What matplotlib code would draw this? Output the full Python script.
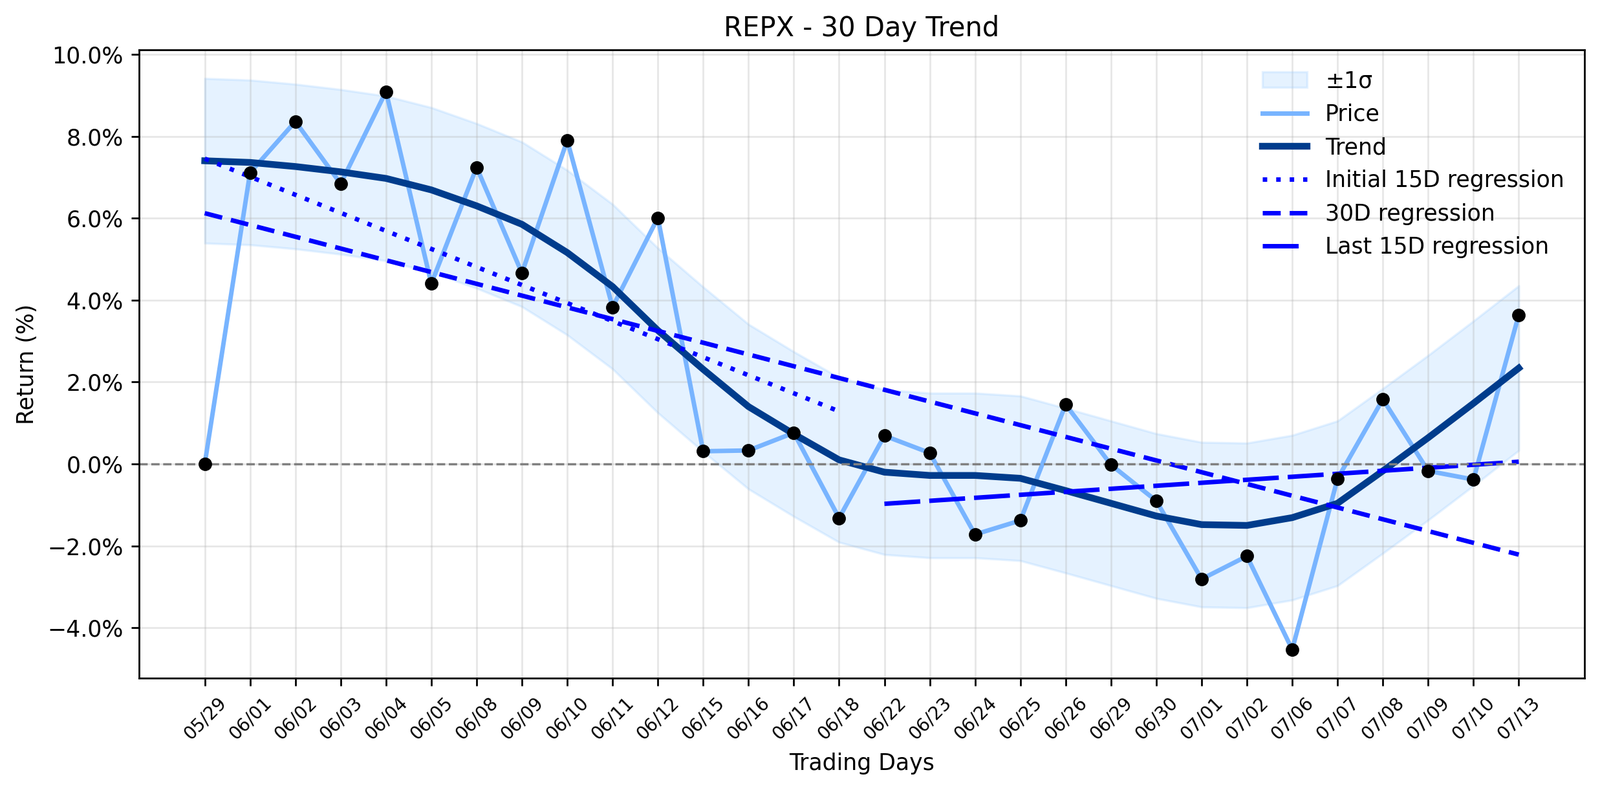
import numpy as np
import matplotlib
matplotlib.use("Agg")
import matplotlib.pyplot as plt
from matplotlib.ticker import PercentFormatter

ticker = "REPX"

dates = ["05/29", "06/01", "06/02", "06/03", "06/04", "06/05", "06/08", "06/09",
         "06/10", "06/11", "06/12", "06/15", "06/16", "06/17", "06/18", "06/22",
         "06/23", "06/24", "06/25", "06/26", "06/29", "06/30", "07/01", "07/02",
         "07/06", "07/07", "07/08", "07/09", "07/10", "07/13"]

# daily return vs first day (%)
price = [0.00, 7.11, 8.36, 6.84, 9.09, 4.40, 7.24, 4.66, 7.90, 3.83,
         6.01, 0.31, 0.33, 0.76, -1.32, 0.69, 0.27, -1.72, -1.38, 1.45,
         -0.02, -0.90, -2.81, -2.25, -4.53, -0.36, 1.58, -0.17, -0.38, 3.64]

# smoothed trend (%)
trend = [7.40, 7.36, 7.26, 7.13, 6.97, 6.69, 6.30, 5.85, 5.16, 4.33,
         3.26, 2.31, 1.40, 0.73, 0.10, -0.20, -0.28, -0.28, -0.35, -0.65,
         -0.96, -1.27, -1.48, -1.50, -1.31, -0.96, -0.17, 0.64, 1.48, 2.34]

sigma = 2.01

x = np.arange(len(dates))
price = np.array(price)
trend = np.array(trend)

fig, ax = plt.subplots(figsize=(2474 / 250, 1224 / 250), dpi=250)
fig.subplots_adjust(left=0.0869, right=0.9903, top=0.937, bottom=0.1438)

ax.fill_between(x, trend - sigma, trend + sigma, color="#99ccff", alpha=0.25, label="±1σ")
ax.plot(x, price, color="#78b4ff", linewidth=2, label="Price")
ax.plot(x, trend, color="#003c8c", linewidth=3, label="Trend")

# regressions on the price series
first = x[:15]
c1 = np.polyfit(first, price[:15], 1)
ax.plot(first, np.polyval(c1, first), color="blue", linewidth=2,
        linestyle=(0, (1, 2)), label="Initial 15D regression")

c2 = np.polyfit(x, price, 1)
ax.plot(x, np.polyval(c2, x), color="blue", linewidth=2,
        linestyle=(0, (4, 2)), label="30D regression")

last = x[15:]
c3 = np.polyfit(last, price[15:], 1)
ax.plot(last, np.polyval(c3, last), color="blue", linewidth=2,
        linestyle=(0, (8, 2)), label="Last 15D regression")

ax.scatter(x, price, color="black", s=25, zorder=5)
ax.axhline(0, color="gray", linestyle="--", linewidth=1)

ax.set_title(f"{ticker} - 30 Day Trend")
ax.set_xlabel("Trading Days")
ax.set_ylabel("Return (%)")
ax.set_xticks(x)
ax.set_xticklabels(dates, rotation=45, fontsize=8)
ax.yaxis.set_major_formatter(PercentFormatter(decimals=1))
ax.grid(True, alpha=0.3)
ax.legend(loc="upper right", frameon=False)

plt.savefig("out.png", dpi=250)
